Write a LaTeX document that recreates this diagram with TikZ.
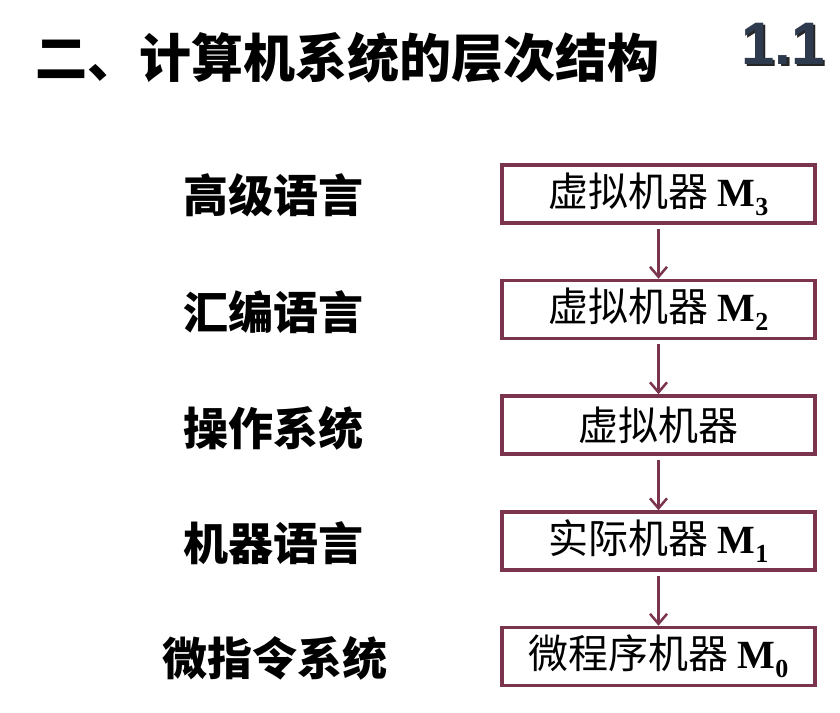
\documentclass[tikz,border=0pt]{standalone}
\usepackage{fontspec}
\usetikzlibrary{arrows.meta}
\newfontfamily\cjk{Noto Sans CJK SC}
\newfontfamily\tnr{Liberation Serif}
\newfontfamily\arl{Liberation Sans}
\definecolor{boxc}{RGB}{122,52,78}
\definecolor{numc}{RGB}{46,58,78}
\newcommand{\Msub}[1]{{\tnr\bfseries M\raisebox{-0.22em}{\fontsize{26}{26}\selectfont #1}}}
\newcommand{\shadowtext}[1]{\rlap{\hspace{2.5pt}\raisebox{-2.5pt}{\textcolor{black!85}{#1}}}\textcolor{numc}{#1}}
\tikzset{
  mbox/.style={draw=boxc, line width=3.5pt, minimum width=313pt, minimum height=58pt, inner sep=0pt, fill=white,
    font=\cjk\fontsize{40}{44}\selectfont},
  lbl/.style={inner sep=0pt, font=\cjk\bfseries\fontsize{45}{50}\selectfont},
  arr/.style={draw=boxc, line width=3.5pt, -{Straight Barb[length=10pt,width=17pt,line width=2.5pt]}}
}
\begin{document}
\begin{tikzpicture}[x=1pt,y=-1pt]
\useasboundingbox (0,0) rectangle (840,712);
\fill[white] (0,0) rectangle (840,712);
\node[inner sep=0pt, anchor=west, font=\cjk\bfseries\fontsize{52}{56}\selectfont] (title) at (35,58) {二、计算机系统的层次结构};
\node[inner sep=0pt, font=\arl\bfseries\fontsize{60}{60}\selectfont] (num) at (783,45) {\shadowtext{1.1}};

\node[lbl] (l3) at (273,195) {高级语言};
\node[lbl] (l2) at (273,312) {汇编语言};
\node[lbl] (los) at (273,428) {操作系统};
\node[lbl] (l1) at (273,543) {机器语言};
\node[lbl] (l0) at (275,658) {微指令系统};

\node[mbox] (b3) at (658.5,194) {虚拟机器 \Msub{3}};
\node[mbox] (b2) at (658.5,309.5) {虚拟机器 \Msub{2}};
\node[mbox] (bos) at (658.5,425) {虚拟机器};
\node[mbox] (b1) at (658.5,541) {实际机器 \Msub{1}};
\node[mbox] (b0) at (658.5,656.5) {微程序机器 \Msub{0}};

\draw[arr] ([yshift=-4pt]b3.south) -- (b2.north);
\draw[arr] ([yshift=-4pt]b2.south) -- (bos.north);
\draw[arr] ([yshift=-4pt]bos.south) -- (b1.north);
\draw[arr] ([yshift=-4pt]b1.south) -- (b0.north);
\end{tikzpicture}
\end{document}
